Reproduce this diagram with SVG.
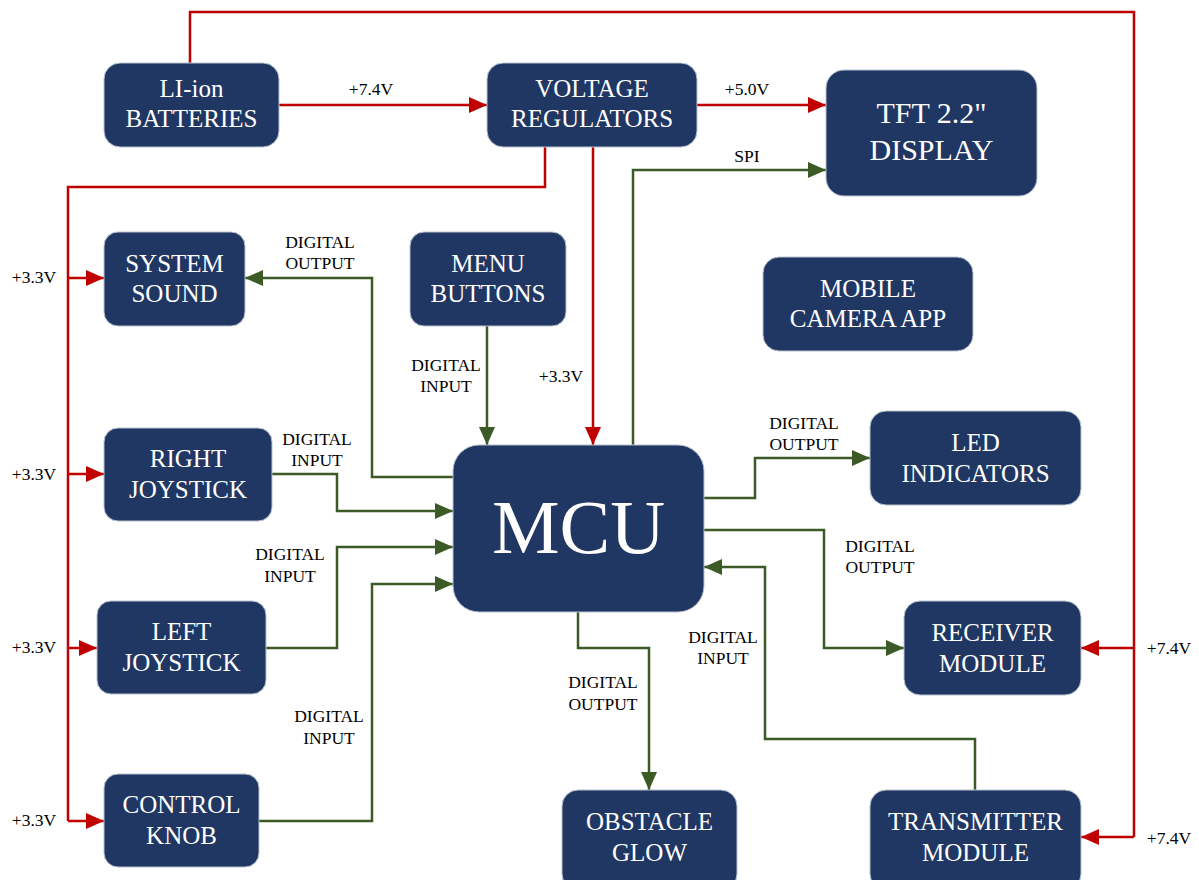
<svg xmlns="http://www.w3.org/2000/svg" width="1199" height="880" viewBox="0 0 1199 880">
<defs>
<style>
.node rect{fill:#213763;stroke:#b8c2d0;stroke-width:1}
.node text{fill:#fff;font-family:"Liberation Serif","Times New Roman",serif;font-size:25px;text-anchor:middle}
.lbl{fill:#000;font-family:"Liberation Serif","Times New Roman",serif;font-size:17.5px;text-anchor:middle}
.red{fill:none;stroke:#c00000;stroke-width:2.5}
.grn{fill:none;stroke:#3b5a25;stroke-width:2.5}
</style>
<marker id="ar" viewBox="0 0 18 16" refX="18" refY="8" markerWidth="18" markerHeight="16" markerUnits="userSpaceOnUse" orient="auto"><path d="M0,0 L18,8 L0,16 z" fill="#c00000"/></marker>
<marker id="ag" viewBox="0 0 18 16" refX="18" refY="8" markerWidth="18" markerHeight="16" markerUnits="userSpaceOnUse" orient="auto"><path d="M0,0 L18,8 L0,16 z" fill="#3b5a25"/></marker>
</defs>
<rect width="1199" height="880" fill="#fff"/>
<g id="connectors">
<path class="red" d="M190,63 V12 H1134 V837"/>
<path class="red" d="M1134,648 H1081" marker-end="url(#ar)"/>
<path class="red" d="M1134,837 H1081" marker-end="url(#ar)"/>
<path class="red" d="M279,105 H487" marker-end="url(#ar)"/>
<path class="red" d="M697,105 H826" marker-end="url(#ar)"/>
<path class="red" d="M593,147 V445" marker-end="url(#ar)"/>
<path class="red" d="M545,147 V187 H68 V821"/>
<path class="red" d="M68,278 H104" marker-end="url(#ar)"/>
<path class="red" d="M68,474 H104" marker-end="url(#ar)"/>
<path class="red" d="M68,648 H97" marker-end="url(#ar)"/>
<path class="red" d="M68,821 H104" marker-end="url(#ar)"/>
<path class="grn" d="M453,477 H372 V278 H245" marker-end="url(#ag)"/>
<path class="grn" d="M487,326 V445" marker-end="url(#ag)"/>
<path class="grn" d="M272,474 H337 V511 H453" marker-end="url(#ag)"/>
<path class="grn" d="M266,648 H337 V547 H453" marker-end="url(#ag)"/>
<path class="grn" d="M259,821 H372 V584 H453" marker-end="url(#ag)"/>
<path class="grn" d="M633,445 V170 H826" marker-end="url(#ag)"/>
<path class="grn" d="M704,498 H755 V458 H870" marker-end="url(#ag)"/>
<path class="grn" d="M704,530 H824 V648 H904" marker-end="url(#ag)"/>
<path class="grn" d="M975,790 V739 H765 V567 H704" marker-end="url(#ag)"/>
<path class="grn" d="M578,612 V648 H649 V790" marker-end="url(#ag)"/>
</g>
<g id="labels">
<text class="lbl" x="371" y="95">+7.4V</text>
<text class="lbl" x="747" y="95">+5.0V</text>
<text class="lbl" x="747" y="162">SPI</text>
<text class="lbl" x="320" y="248">DIGITAL</text><text class="lbl" x="320" y="269">OUTPUT</text>
<text class="lbl" x="446" y="371">DIGITAL</text><text class="lbl" x="446" y="392">INPUT</text>
<text class="lbl" x="561" y="382">+3.3V</text>
<text class="lbl" x="317" y="445">DIGITAL</text><text class="lbl" x="317" y="466">INPUT</text>
<text class="lbl" x="290" y="560">DIGITAL</text><text class="lbl" x="290" y="582">INPUT</text>
<text class="lbl" x="329" y="722">DIGITAL</text><text class="lbl" x="329" y="744">INPUT</text>
<text class="lbl" x="34" y="283">+3.3V</text>
<text class="lbl" x="34" y="480">+3.3V</text>
<text class="lbl" x="34" y="653">+3.3V</text>
<text class="lbl" x="34" y="826">+3.3V</text>
<text class="lbl" x="1169" y="654">+7.4V</text>
<text class="lbl" x="1169" y="844">+7.4V</text>
<text class="lbl" x="804" y="429">DIGITAL</text><text class="lbl" x="804" y="450">OUTPUT</text>
<text class="lbl" x="880" y="552">DIGITAL</text><text class="lbl" x="880" y="573">OUTPUT</text>
<text class="lbl" x="723" y="643">DIGITAL</text><text class="lbl" x="723" y="664">INPUT</text>
<text class="lbl" x="603" y="688">DIGITAL</text><text class="lbl" x="603" y="710">OUTPUT</text>
</g>
<g id="batteries" class="node"><rect x="104" y="63" width="175" height="84" rx="16"/><text x="191.5" y="97">LI-ion</text><text x="191.5" y="127">BATTERIES</text></g>
<g id="regulators" class="node"><rect x="487" y="63" width="210" height="84" rx="16"/><text x="592" y="97">VOLTAGE</text><text x="592" y="127">REGULATORS</text></g>
<g id="display" class="node"><rect x="826" y="70" width="211" height="126" rx="18"/><text x="931.5" y="123" style="font-size:30px">TFT 2.2"</text><text x="931.5" y="160" style="font-size:30px">DISPLAY</text></g>
<g id="sound" class="node"><rect x="104" y="232" width="141" height="94" rx="14"/><text x="174.5" y="272">SYSTEM</text><text x="174.5" y="302">SOUND</text></g>
<g id="menu" class="node"><rect x="410" y="232" width="156" height="94" rx="14"/><text x="488" y="272">MENU</text><text x="488" y="302">BUTTONS</text></g>
<g id="camera" class="node"><rect x="763" y="257" width="210" height="94" rx="16"/><text x="868" y="297">MOBILE</text><text x="868" y="327">CAMERA APP</text></g>
<g id="rjoy" class="node"><rect x="104" y="428" width="168" height="93" rx="14"/><text x="188" y="467">RIGHT</text><text x="188" y="498">JOYSTICK</text></g>
<g id="mcu" class="node"><rect x="453" y="445" width="251" height="167" rx="26"/><text x="578.5" y="553" style="font-size:76px">MCU</text></g>
<g id="led" class="node"><rect x="870" y="411" width="211" height="94" rx="16"/><text x="975.5" y="451">LED</text><text x="975.5" y="482">INDICATORS</text></g>
<g id="ljoy" class="node"><rect x="97" y="601" width="169" height="93" rx="14"/><text x="181.5" y="640">LEFT</text><text x="181.5" y="671">JOYSTICK</text></g>
<g id="receiver" class="node"><rect x="904" y="601" width="177" height="94" rx="16"/><text x="992.5" y="641">RECEIVER</text><text x="992.5" y="672">MODULE</text></g>
<g id="knob" class="node"><rect x="104" y="774" width="155" height="93" rx="14"/><text x="181.5" y="813">CONTROL</text><text x="181.5" y="844">KNOB</text></g>
<g id="obstacle" class="node"><rect x="562" y="790" width="175" height="100" rx="16"/><text x="649.5" y="830">OBSTACLE</text><text x="649.5" y="861">GLOW</text></g>
<g id="transmitter" class="node"><rect x="870" y="790" width="211" height="100" rx="16"/><text x="975.5" y="830">TRANSMITTER</text><text x="975.5" y="861">MODULE</text></g>
</svg>
